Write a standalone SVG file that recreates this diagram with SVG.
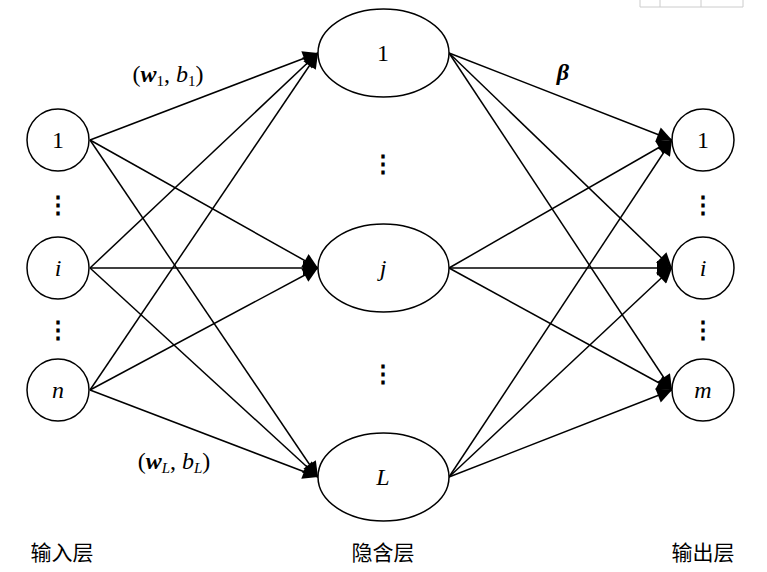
<svg xmlns="http://www.w3.org/2000/svg" width="767" height="572" viewBox="0 0 767 572">
<style>
.n{fill:#fff;stroke:#000;stroke-width:1.5}
.t{font-family:"Liberation Serif",serif;font-size:24px;text-anchor:middle}
.i{font-style:italic}
.s{font-size:15px}
.c{font-family:"Noto Sans CJK SC",sans-serif;font-size:21px;text-anchor:middle}
.e line{stroke:#000;stroke-width:1.5;marker-end:url(#a)}
</style>
<defs><marker id="a" viewBox="0 0 10 10" refX="10" refY="5" markerWidth="20" markerHeight="15" markerUnits="userSpaceOnUse" orient="auto"><path d="M0,0L10,5L0,10z"/></marker></defs>
<rect width="767" height="572" fill="#fff"/>
<g stroke="#ccc" fill="none"><path d="M640,0V7H743V0M660,0V7M701,0V7"/></g>
<g class="e" id="edges">
<line x1="90" y1="140" x2="318" y2="53"/><line x1="90" y1="140" x2="318" y2="268"/><line x1="90" y1="140" x2="318" y2="477"/>
<line x1="90" y1="268" x2="318" y2="53"/><line x1="90" y1="268" x2="318" y2="268"/><line x1="90" y1="268" x2="318" y2="477"/>
<line x1="90" y1="390" x2="318" y2="53"/><line x1="90" y1="390" x2="318" y2="268"/><line x1="90" y1="390" x2="318" y2="477"/>
<line x1="449" y1="53" x2="672" y2="140"/><line x1="449" y1="53" x2="672" y2="268"/><line x1="449" y1="53" x2="672" y2="390"/>
<line x1="449" y1="268" x2="672" y2="140"/><line x1="449" y1="268" x2="672" y2="268"/><line x1="449" y1="268" x2="672" y2="390"/>
<line x1="449" y1="477" x2="672" y2="140"/><line x1="449" y1="477" x2="672" y2="268"/><line x1="449" y1="477" x2="672" y2="390"/>
</g>
<g id="in1"><circle class="n" cx="58" cy="140" r="31"/><text class="t" x="58" y="148">1</text></g>
<g id="ini"><circle class="n" cx="58" cy="268" r="31"/><text class="t i" x="58" y="276">i</text></g>
<g id="inn"><circle class="n" cx="58" cy="390" r="31"/><text class="t i" x="58" y="398">n</text></g>
<g id="h1"><ellipse class="n" cx="383.5" cy="53" rx="65.5" ry="44"/><text class="t" x="383" y="61">1</text></g>
<g id="hj"><ellipse class="n" cx="383.5" cy="268" rx="65.5" ry="44"/><text class="t i" x="383" y="276">j</text></g>
<g id="hL"><ellipse class="n" cx="383.5" cy="477" rx="65.5" ry="44"/><text class="t i" x="383" y="485">L</text></g>
<g id="o1"><circle class="n" cx="703" cy="140" r="31"/><text class="t" x="703" y="148">1</text></g>
<g id="oi"><circle class="n" cx="703" cy="268" r="31"/><text class="t i" x="703" y="276">i</text></g>
<g id="om"><circle class="n" cx="703" cy="390" r="31"/><text class="t i" x="703" y="398">m</text></g>
<g class="t" font-weight="bold">
<text x="58" y="213">⋮</text><text x="58" y="338">⋮</text>
<text x="383" y="172">⋮</text><text x="383" y="382">⋮</text>
<text x="703" y="213">⋮</text><text x="703" y="338">⋮</text>
</g>
<text class="t" x="168" y="82">(<tspan font-weight="bold" font-style="italic">w</tspan><tspan class="s" dy="4">1</tspan><tspan dy="-4">, </tspan><tspan font-style="italic">b</tspan><tspan class="s" dy="4">1</tspan><tspan dy="-4">)</tspan></text>
<text class="t" x="174" y="469">(<tspan font-weight="bold" font-style="italic">w</tspan><tspan class="s i" dy="4">L</tspan><tspan dy="-4">, </tspan><tspan font-style="italic">b</tspan><tspan class="s i" dy="4">L</tspan><tspan dy="-4">)</tspan></text>
<text class="t" x="563" y="80" font-weight="bold" font-style="italic">β</text>
<text class="c" x="62" y="560">输入层</text>
<text class="c" x="383" y="560">隐含层</text>
<text class="c" x="703" y="560">输出层</text>
</svg>
